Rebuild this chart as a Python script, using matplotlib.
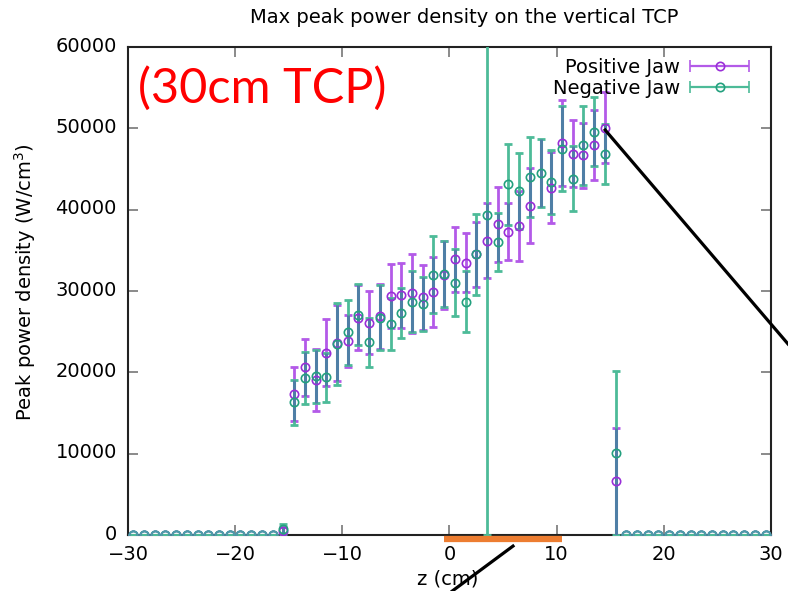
import matplotlib
matplotlib.use("Agg")
import matplotlib.pyplot as plt
import matplotlib.transforms as mtransforms
from matplotlib.legend_handler import HandlerErrorbar
from matplotlib.lines import Line2D
import numpy as np

# z positions (cm) of the sampled points
z_cm = [-29.5, -28.5, -27.5, -26.5, -25.5, -24.5, -23.5, -22.5, -21.5, -20.5,
        -19.5, -18.5, -17.5, -16.5, -15.5, -14.5, -13.5, -12.5, -11.5, -10.5,
        -9.5, -8.5, -7.5, -6.5, -5.5, -4.5, -3.5, -2.5, -1.5, -0.5,
        0.5, 1.5, 2.5, 3.5, 4.5, 5.5, 6.5, 7.5, 8.5, 9.5,
        10.5, 11.5, 12.5, 13.5, 14.5, 15.5, 16.5, 17.5, 18.5, 19.5,
        20.5, 21.5, 22.5, 23.5, 24.5, 25.5, 26.5, 27.5, 28.5, 29.5]

zeros14 = [0] * 14

# peak power density (W/cm^3), positive jaw
pos_val = zeros14 + [500, 17300, 20600, 19100, 22400, 23600, 23900, 26700, 26100, 26900,
                     29400, 29500, 29700, 29200, 29900, 32000, 33900, 33500, 34500, 36200,
                     38200, 37300, 38000, 40500, np.nan, 42700, 48200, 46900, 46700, 48000,
                     50100, 6600] + zeros14
pos_err = zeros14 + [500, 3300, 3500, 3800, 4100, 4700, 3200, 4000, 3900, 4000,
                     3900, 4000, 4900, 4000, 4300, 4200, 4000, 3600, 4000, 4600,
                     4600, 3500, 4300, 4600, np.nan, 4400, 5300, 4100, 4000, 4300,
                     4400, 6600] + zeros14

# negative jaw
neg_val = zeros14 + [700, 16300, 19300, 19500, 19400, 23500, 24900, 27100, 23700, 26700,
                     25900, 27300, 28700, 28400, 32000, 32100, 31000, 28700, 34500, 39400,
                     36000, 43100, 42300, 44000, 44500, 43400, 47500, 43800, 47900, 49600,
                     46800, 10050] + zeros14
neg_err = zeros14 + [700, 2800, 3200, 3300, 3000, 5000, 4000, 3700, 3000, 4000,
                     3200, 3100, 3700, 3300, 4700, 4100, 4100, 3700, 5000, 39400,
                     3600, 5000, 4700, 4900, 4200, 3900, 5200, 4000, 4900, 4200,
                     3700, 10050] + zeros14

# collimator jaw extent drawn on the axis (cm)
jaw_span = [-0.5, 10.5]

c_pos = "#b35ae8"
c_neg = "#4dbb98"
c_both = "#4f7fa6"
m_pos = "#9a2ed8"
m_neg = "#23a07e"

fig = plt.figure(figsize=(7.88, 5.91), dpi=100)
ax = fig.add_axes([0.1624, 0.0948, 0.816, 0.8257])

z = np.array(z_cm)
pv, pe = np.array(pos_val, float), np.array(pos_err, float)
nv, ne = np.array(neg_val, float), np.array(neg_err, float)

bar_kw = dict(fmt="none", elinewidth=2.0, capsize=3, capthick=2.0)
ax.errorbar(z, pv, yerr=pe, ecolor=c_pos, zorder=2, **bar_kw)
ax.errorbar(z, nv, yerr=ne, ecolor=c_neg, zorder=3, **bar_kw)

# where the two error bars overlap, they render in a darker blue
lo = np.fmax(pv - pe, nv - ne)
hi = np.fmin(pv + pe, nv + ne)
ok = hi > lo
ax.vlines(z[ok], lo[ok], hi[ok], color=c_both, lw=2.2, zorder=4)

# markers on top
ax.plot(z, pv, "o", mfc="none", mec=m_pos, ms=6, mew=1.2, zorder=5)
ax.plot(z, nv, "o", mfc="none", mec=m_neg, ms=6, mew=1.2, zorder=6)
zmask = (pv == 0) & (nv == 0)
ax.plot(z[zmask], pv[zmask], "o", mfc="none", mec="#4f9aaa", ms=6, mew=1.5, zorder=7)

ax.set_xlim(-30, 30)
ax.set_ylim(0, 60000)
ax.set_xticks([-30, -20, -10, 0, 10, 20, 30])
ax.set_yticks(range(0, 60001, 10000))
ax.tick_params(direction="in", top=True, right=True, length=7, width=1.2,
               color="#777777", labelsize=14)
ax.tick_params(axis="x", pad=7.5)
ax.tick_params(axis="y", pad=8)
# nudge y tick labels up a touch so "0" clears "-30"
lift = mtransforms.ScaledTranslation(0, 2 / 72, fig.dpi_scale_trans)
for lab in ax.get_yticklabels():
    lab.set_transform(lab.get_transform() + lift)
for s in ax.spines.values():
    s.set_linewidth(1.5)
    s.set_color("#222222")

ax.set_xlabel("z (cm)", fontsize=14)
ax.xaxis.set_label_coords(0.497, -0.07)
ax.set_ylabel("Peak power density (W/cm$^3$)", fontsize=14)
ax.yaxis.set_label_coords(-0.14, 0.518)
fig.text(0.589, 0.970, "Max peak power density on the vertical TCP",
         ha="center", va="center", fontsize=14)

# legend samples: horizontal error bars as in the original
px = ax.errorbar([np.nan], [np.nan], xerr=[1], fmt="o", mfc="none", mec=m_pos, ms=6,
                 mew=1.2, color=c_pos, elinewidth=1.6, capsize=4, capthick=1.6,
                 label="Positive Jaw")
nx = ax.errorbar([np.nan], [np.nan], xerr=[1], fmt="o", mfc="none", mec=m_neg, ms=6,
                 mew=1.2, color=c_neg, elinewidth=1.6, capsize=4, capthick=1.6,
                 label="Negative Jaw")
ax.legend(handles=[px, nx], loc="upper right", frameon=False,
          markerfirst=False, fontsize=14, handlelength=3.1, handletextpad=0.5,
          borderaxespad=0, borderpad=0, labelspacing=0.1,
          bbox_to_anchor=(0.967, 0.977),
          handler_map={type(px): HandlerErrorbar(xerr_size=1.5)})

ax.text(0.015, 0.915, "(30cm TCP)", transform=ax.transAxes, color="red",
        fontsize=35, family="Lato", va="center", ha="left")

# jaw extent bar just under the axis
trans = mtransforms.blended_transform_factory(ax.transData, ax.transAxes)
ax.plot(jaw_span, [-0.008, -0.008], transform=trans, color="#ed7d31", lw=4.5,
        solid_capstyle="butt", clip_on=False, zorder=10)

# callout lines from the slide
fig.add_artist(Line2D([0.768, 1.0], [0.780, 0.418], color="black", lw=2.3))
fig.add_artist(Line2D([0.651, 0.574], [0.076, 0.0], color="black", lw=2.3))

fig.savefig("out.png", dpi=100)
